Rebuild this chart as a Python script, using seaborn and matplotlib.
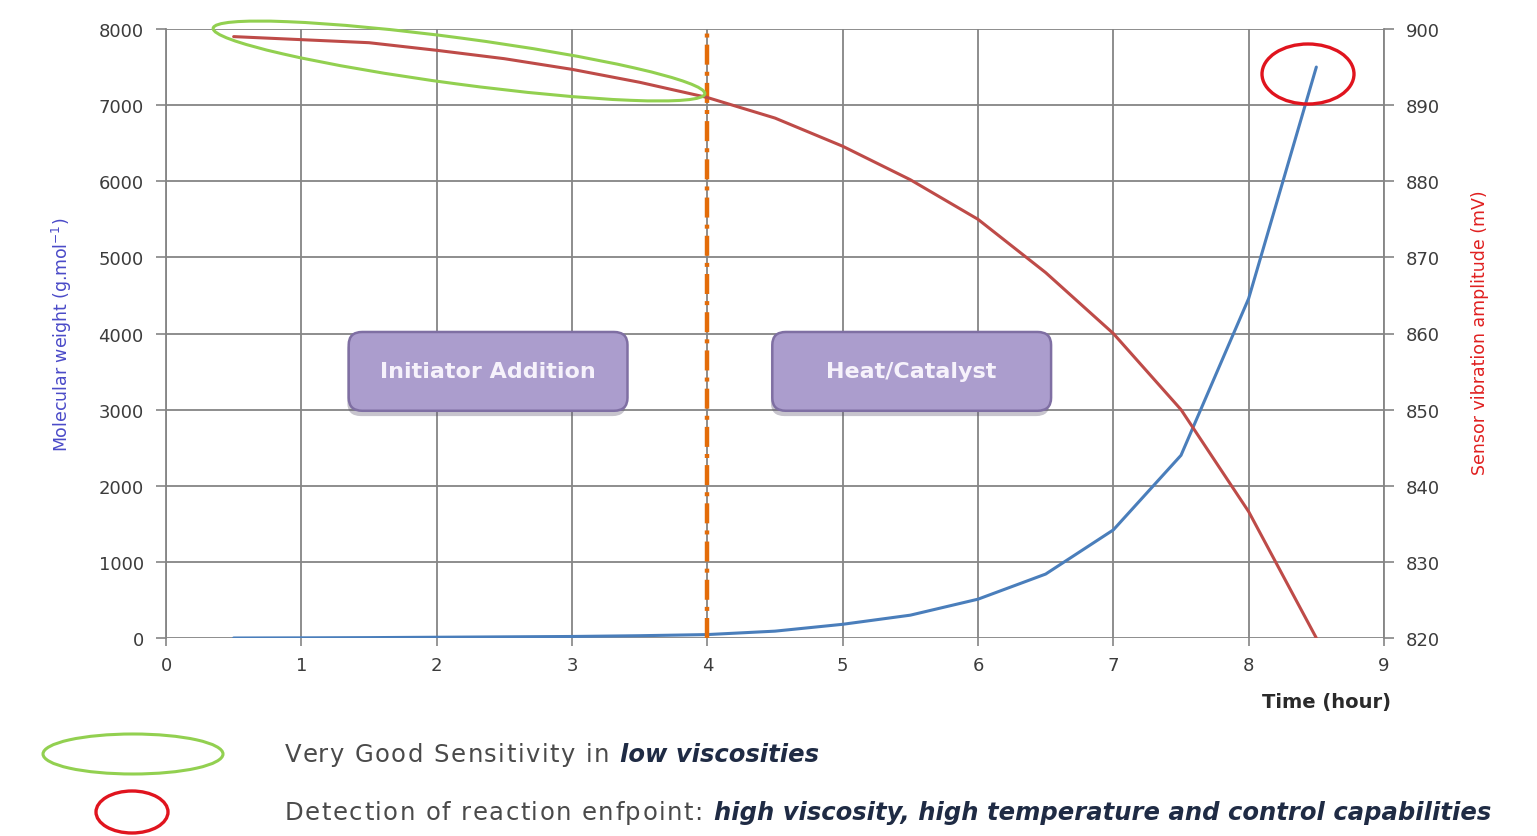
import numpy as np
import pandas as pd
import seaborn as sns
import matplotlib
matplotlib.use("Agg")
import matplotlib.pyplot as plt
from matplotlib.patches import Ellipse, FancyBboxPatch
from matplotlib.transforms import IdentityTransform
from matplotlib.font_manager import FontProperties

# ---------------- data ----------------
time_h = [0.5, 1.0, 1.5, 2.0, 2.5, 3.0, 3.5, 4.0, 4.5, 5.0, 5.5, 6.0, 6.5, 7.0, 7.5, 8.0, 8.5]
mol_weight = [0, 2, 5, 10, 15, 20, 30, 45, 90, 180, 300, 510, 840, 1420, 2400, 4460, 7500]
sensor_mv = [899.0, 898.6, 898.2, 897.2, 896.1, 894.7, 893.0, 891.0, 888.3, 884.6, 880.2,
             875.0, 868.0, 860.0, 850.0, 836.6, 820.0]
x_ticks = list(range(0, 10))
left_ticks = list(range(0, 8001, 1000))
right_ticks = list(range(820, 901, 10))
phase_labels = ["Initiator Addition", "Heat/Catalyst"]
phase_x = [(1.35, 3.41), (4.48, 6.54)]
phase_y = (2985, 4020)
switch_time = 4

df = pd.DataFrame({"time": time_h, "mw": mol_weight, "mv": sensor_mv})

sns.set_style("white")
plt.rcParams["font.family"] = ["DejaVu Sans"]

W, H = 1537, 837
fig = plt.figure(figsize=(W / 100, H / 100), dpi=100)
ax = fig.add_axes([166 / W, 1 - 639 / H, (1384 - 166) / W, (639 - 30) / H])
ax2 = ax.twinx()

grid_c = "#858585"
tick_c = "#3c3c3c"

# lines
sns.lineplot(data=df, x="time", y="mw", ax=ax, color="#4a7ebb", lw=2.2, zorder=5)
sns.lineplot(data=df, x="time", y="mv", ax=ax2, color="#be4b48", lw=2.2, zorder=5)

ax.set_xlim(0, 9)
ax.set_ylim(0, 8000)
ax2.set_ylim(820, 900)
ax.set_xticks(x_ticks)
ax.set_yticks(left_ticks)
ax2.set_yticks(right_ticks)
ax.grid(True, color=grid_c, lw=1.3)
ax.set_axisbelow(True)

for a in (ax, ax2):
    for s in a.spines.values():
        s.set_visible(False)
ax.spines["left"].set_visible(True)
ax.spines["left"].set_color(grid_c)
ax.spines["left"].set_linewidth(1.3)
ax2.spines["right"].set_visible(True)
ax2.spines["right"].set_color(grid_c)
ax2.spines["right"].set_linewidth(1.3)

ax.tick_params(axis="x", length=6, width=1.2, color=grid_c, pad=7, labelsize=13, labelcolor=tick_c, bottom=True)
ax.tick_params(axis="y", length=7, width=1.2, color=grid_c, pad=9, labelsize=13, labelcolor=tick_c, left=True)
ax2.tick_params(axis="y", length=7, width=1.2, color=grid_c, pad=9, labelsize=13, labelcolor=tick_c, right=True)

ax.set_xlabel("")
ax.set_ylabel("")
ax2.set_ylabel("")

# axis titles
narrow = ["Liberation Sans Narrow", "DejaVu Sans"]
fig.text(62 / W, 1 - 335 / H, "Molecular weight (g.mol$^{-1}$)", rotation=90, ha="center", va="center",
         color="#4a4ac8", fontsize=12.5, family=narrow)
fig.text(1480 / W, 1 - 333 / H, "Sensor vibration amplitude (mV)", rotation=90, ha="center", va="center",
         color="#e02020", fontsize=12.5, family=narrow)
fig.text(1327 / W, 1 - 703 / H, "Time (hour)", ha="center", va="center", color="#2a2a2a",
         fontsize=14, fontweight="bold")

# switch line
ax.axvline(switch_time, color="#e36c09", lw=3.2, dashes=(4.5, 1.6, 0.9, 1.6), zorder=6)

# phase boxes
for lab, (x0, x1) in zip(phase_labels, phase_x):
    y0, y1 = phase_y
    shadow = FancyBboxPatch((x0 - 0.01, y0 - 70), x1 - x0, y1 - y0,
                            boxstyle="round,pad=0,rounding_size=0.1", mutation_aspect=1700,
                            fc="#5f5872", ec="none", alpha=0.35, zorder=7)
    ax.add_patch(shadow)
    box = FancyBboxPatch((x0, y0), x1 - x0, y1 - y0,
                         boxstyle="round,pad=0,rounding_size=0.1", mutation_aspect=1700,
                         fc="#ab9dcd", ec="#7f6fa3", lw=1.8, zorder=8)
    ax.add_patch(box)
    ax.text((x0 + x1) / 2, (y0 + y1) / 2, lab, ha="center", va="center", color="#f6f2fb",
            fontsize=16, fontweight="bold", zorder=9)

# highlight ellipses on the chart (display pixels)
ident = IdentityTransform()
fig.add_artist(Ellipse((459, H - 62), 496, 46, angle=-7.6, transform=ident,
                       fill=False, ec="#92d050", lw=2.2, zorder=10))
fig.add_artist(Ellipse((1308, H - 75), 92, 60, transform=ident,
                       fill=False, ec="#e0141e", lw=2.4, zorder=10))

# legend-like notes
fig.add_artist(Ellipse((133, H - 755), 180, 40, transform=ident, fill=False, ec="#92d050", lw=2.2))
fig.add_artist(Ellipse((132, H - 813), 72, 42, transform=ident, fill=False, ec="#e0141e", lw=2.4))

norm_font = dict(family=["DejaVu Sans"], fontsize=17.5, color="#4a4a4a")
emph_font = dict(family=["DejaVu Sans"], fontsize=17.5, color="#1f2b44", fontweight="bold", style="italic")
letter_gap = 1.5  # px of tracking for the plain (letter-spaced) text

lines = [("Very Good Sensitivity in ", "low viscosities", 755),
         ("Detection of reaction enfpoint: ", "high viscosity, high temperature and control capabilities", 813)]
fig.canvas.draw()
renderer = fig.canvas.get_renderer()
prop = FontProperties(family=norm_font["family"], size=norm_font["fontsize"])


def text_w(s):
    wbar = renderer.get_text_width_height_descent("|", prop, ismath=False)[0]
    return renderer.get_text_width_height_descent(s + "|", prop, ismath=False)[0] - wbar


for plain, emph, py in lines:
    x0 = 285
    for i, ch in enumerate(plain):
        if ch == " ":
            continue
        xi = x0 + text_w(plain[:i]) + i * letter_gap
        fig.text(xi / W, 1 - py / H, ch, ha="left", va="center", **norm_font)
    xe = x0 + text_w(plain) + len(plain) * letter_gap
    fig.text(xe / W, 1 - py / H, emph, ha="left", va="center", **emph_font)

fig.savefig("out.png", dpi=100, facecolor="white")
